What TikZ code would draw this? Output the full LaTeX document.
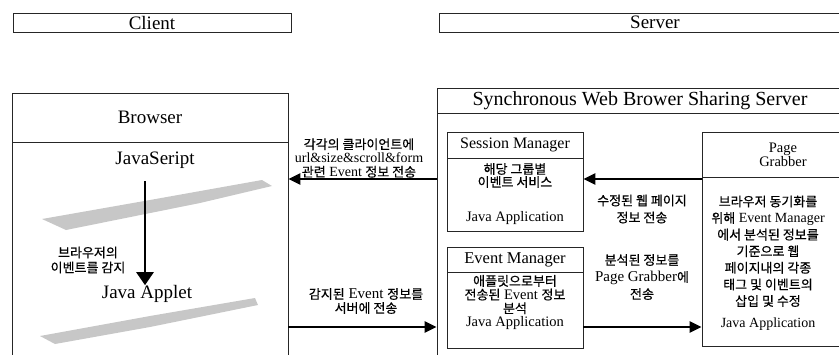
\documentclass[tikz,border=0pt]{standalone}
\usepackage{fontspec}
\setmainfont{Liberation Serif}
\newfontfamily\hgfont{Noto Sans CJK KR}[FakeBold=0.6]
\usetikzlibrary{positioning,arrows.meta}
\newcommand{\hg}[1]{{\hgfont\fontsize{13}{13}\selectfont #1}}
\tikzset{
	boxA/.style={
		draw=black!85, line width=0.9pt, rectangle, inner sep=0pt,
		font={\fontsize{19}{19}\selectfont}
	},
	txtA/.style={
		inner sep=0pt, align=center,
		font={\fontsize{15}{15}\selectfont}
	},
	smudgeA/.style={fill=black!22},
	flowA/.style={->, line width=2.4pt},
	>={Triangle[length=12pt,width=11pt]},
}
\begin{document}
\begin{tikzpicture}[x=1pt, y=-1pt]
\useasboundingbox (0,0) rectangle (839,354);
\clip (0,0) rectangle (839,354);
% top bars
\node [boxA, minimum width=278pt, minimum height=19pt] (client) at (152,22.5) {Client};
\node [boxA, minimum width=432pt, minimum height=19pt] (server) at (655,22.5) {Server};
% client side
\node [boxA, minimum width=276pt, minimum height=49pt] (bhead) at (150,117.5) {Browser};
\node [boxA, minimum width=276pt, minimum height=232pt, below=0pt of bhead] (bbody) {};
\fill [smudgeA] (42,219) -- (150,200) -- (262,180) -- (272,186) -- (200,203) -- (66,230) -- cycle;
\fill [smudgeA] (40,336) -- (150,316) -- (255,298) -- (258,305) -- (150,327) -- (55,344) -- cycle;
\node [txtA, font={\fontsize{19}{19}\selectfont}] (jscript) at (155,160) {JavaSeript};
\node [txtA, font={\fontsize{19}{19}\selectfont}] (japplet) at (147,294) {Java Applet};
\node [txtA] (bevt) at (88,260) {\hg{브라우저의}\\\hg{이벤트를 감지}};
\coordinate (jsout) at (145,181);
%\draw [flowA] (jscript) -- (japplet);
\draw [line width=2.6pt, -{Triangle[length=13pt,width=17pt]}] (jsout) -- (jsout |- japplet.north);
% server side
\node [boxA, minimum width=406pt, minimum height=25pt, font={\fontsize{20}{20}\selectfont}] (shead) at (640,100.5) {Synchronous Web Brower Sharing Server};
\node [boxA, minimum width=406pt, minimum height=260pt, below=0pt of shead] (sbody) {};
\node [boxA, minimum width=136pt, minimum height=26pt, font={\fontsize{16}{16}\selectfont}] (mhead) at (515,145) {Session Manager};
\node [boxA, minimum width=136pt, minimum height=73pt, below=0pt of mhead] (mbody) {};
\node [boxA, minimum width=136pt, minimum height=25pt, font={\fontsize{16.5}{16}\selectfont}] (ehead) at (515,259.5) {Event Manager};
\node [boxA, minimum width=136pt, minimum height=76pt, below=0pt of ehead] (ebody) {};
\node [boxA, minimum width=162pt, minimum height=45pt, align=center, font={\fontsize{14.5}{12}\selectfont}] (phead) at (783,154.5) {Page\\Grabber};
\node [boxA, minimum width=162pt, minimum height=169pt, below=0pt of phead] (pbody) {};
% box texts
\node [txtA, font={\fontsize{14.5}{13}\selectfont}] (mtxt) at (515,194) {\hg{해당 그룹별}\\\hg{이벤트 서비스}\\[22pt]Java Application};
\node [txtA, font={\fontsize{14.5}{13.7}\selectfont}] (etxt) at (515,302.5) {\hg{애플릿으로부터}\\\hg{전송된} Event \hg{정보}\\\hg{분석}\\Java Application};
\node [txtA, font={\fontsize{14}{16.6}\selectfont}] (ptxt) at (768,263) {\hg{브라우저 동기화를}\\\hg{위해} Event Manager\\\hg{에서 분석된 정보를}\\\hg{기준으로 웹}\\\hg{페이지내의 각종}\\\hg{태그 및 이벤트의}\\\hg{삽입 및 수정}\\[5pt]Java Application};
% connectors
\draw [flowA] (sbody.west |- 0,179) -- (bbody.east |- 0,179);
\draw [flowA] (pbody.west |- 0,179) -- (mbody.east |- 0,179);
\draw [flowA] (bbody.east |- 0,327) -- (sbody.west |- 0,327);
\draw [flowA] (ebody.east |- 0,327) -- (pbody.west |- 0,327);
\node [txtA, font={\fontsize{14}{13.8}\selectfont}] (lbl1) at (359,158) {\hg{각각의 클라이언트에}\\url\&size\&scroll\&form\\\hg{관련} Event \hg{정보 전송}};
\node [txtA, font={\fontsize{15}{17}\selectfont}] (lbl2) at (642,209) {\hg{수정된 웹 페이지}\\\hg{정보 전송}};
\node [txtA, font={\fontsize{15}{14}\selectfont}] (lbl3) at (366,301) {\hg{감지된} Event \hg{정보를}\\\hg{서버에 전송}};
\node [txtA, font={\fontsize{15}{17}\selectfont}] (lbl4) at (642,277) {\hg{분석된 정보를}\\Page Grabber\hg{에}\\\hg{전송}};
\end{tikzpicture}
\end{document}
